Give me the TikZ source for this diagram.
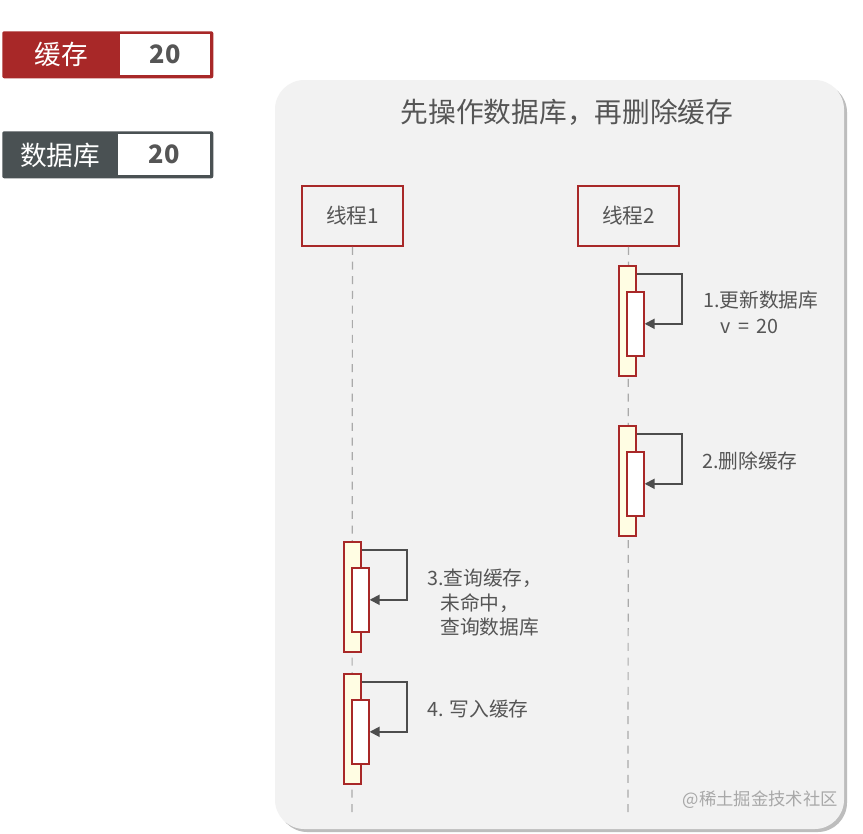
\documentclass[tikz,border=0pt]{standalone}
\usepackage{fontspec}
\setmainfont{Noto Sans CJK SC}
\usetikzlibrary{calc,arrows.meta}
\definecolor{cred}{HTML}{A82828}
\definecolor{cdark}{HTML}{4A5153}
\definecolor{ctext}{HTML}{555555}
\definecolor{cbg}{HTML}{F2F2F2}
\definecolor{cshadow}{HTML}{BDBDBD}
\definecolor{cyel}{HTML}{FFFDE3}
\definecolor{carr}{HTML}{4D4D4D}
\definecolor{cline}{HTML}{AAAAAA}
\definecolor{cwm}{HTML}{A8A8A8}
\begin{document}
\begin{tikzpicture}[x=0.75pt,y=-0.75pt,
  rbox/.style 2 args={anchor=north west, inner sep=0pt, minimum width=#1*0.75pt, minimum height=#2*0.75pt},
  thread/.style={rbox={101}{60}, draw=cred, line width=1.4pt, fill=cbg},
  tlabel/.style={text=ctext, font=\fontsize{15.5}{18}\selectfont},
  actout/.style={rbox={17}{110}, draw=cred, line width=1.2pt, fill=cyel},
  actin/.style={rbox={17}{64}, draw=cred, line width=1.2pt, fill=white},
  selfarr/.style={draw=carr, line width=1.4pt, -{Triangle[length=7.5pt,width=7.5pt]}},
  lifeline/.style={draw=cline, line width=0.9pt, dash pattern=on 6pt off 5pt},
  lbl/.style={anchor=west, text=ctext, font=\fontsize{14.8}{18}\selectfont, inner sep=0pt},
]
\useasboundingbox (0,0) rectangle (863,833);
\fill[white] (0,0) rectangle (863,833);

% legend boxes
\node[rbox={211}{47}, fill=cred, rounded corners=1.5pt] (cache) at (2,31) {};
\node[rbox={90}{41}, fill=white] (cachev) at (120,34) {};
\node[text=white, font=\fontsize{20}{24}\selectfont] (cachet) at (61,54) {缓存};
\node[text=ctext, font=\bfseries\fontsize{19}{24}\selectfont] at (cachev.center) {20};

\node[rbox={211}{47}, fill=cdark, rounded corners=1.5pt] (db) at (2,131) {};
\node[rbox={92}{41}, fill=white] (dbv) at (118,134) {};
\node[text=white, font=\fontsize{20}{24}\selectfont] (dbt) at (60,155) {数据库};
\node[text=ctext, font=\bfseries\fontsize{19}{24}\selectfont] at (dbv.center) {20};

% main panel
\fill[cshadow, rounded corners=22pt] (278,83) rectangle (847,832);
\fill[cbg, rounded corners=22pt] (275,80) rectangle (844,829);
\node[text=ctext, font=\fontsize{20.8}{24}\selectfont] (title) at (567,112) {先操作数据库，再删除缓存};

% threads
\node[thread] (t1) at (301,185) {};
\node[tlabel] at (t1.center) {线程1};
\node[thread] (t2) at (577,185) {};
\node[tlabel] at (t2.center) {线程2};

\coordinate (e1) at (352,812);
\coordinate (e2) at (628,812);
\draw[lifeline] (t1.south) -- (e1);
\draw[lifeline] (t2.south) -- (e2);

% thread 2 activations
\node[actout] (a1o) at (618,265) {};
\node[actin] (a1i) at (626,291) {};
\draw[selfarr] ([yshift=-6.75pt]a1o.north east) -- ++(45,0) |- (a1i.east);
\node[lbl] at (703,300) {1.更新数据库};
\node[lbl] at (720,326) {v\,{ }=\,{ }20};

\node[actout] (a2o) at (618,425) {};
\node[actin] (a2i) at (626,451) {};
\draw[selfarr] ([yshift=-6.75pt]a2o.north east) -- ++(45,0) |- (a2i.east);
\node[lbl] at (702,461) {2.删除缓存};

% thread 1 activations
\node[actout] (a3o) at (343,541) {};
\node[actin] (a3i) at (351,567) {};
\draw[selfarr] ([yshift=-6.75pt]a3o.north east) -- ++(45,0) |- (a3i.east);
\node[lbl] at (427,578) {3.查询缓存，};
\node[lbl] at (440,603) {未命中，};
\node[lbl] at (440,627) {查询数据库};

\node[actout] (a4o) at (343,673) {};
\node[actin] (a4i) at (351,699) {};
\draw[selfarr] ([yshift=-6.75pt]a4o.north east) -- ++(45,0) |- (a4i.east);
\node[lbl] at (427,709) {4. 写入缓存};

% watermark
\node[anchor=east, text=cwm, font=\fontsize{13}{16}\selectfont, inner sep=0pt] (wm) at (838,800) {@稀土掘金技术社区};
\end{tikzpicture}
\end{document}
